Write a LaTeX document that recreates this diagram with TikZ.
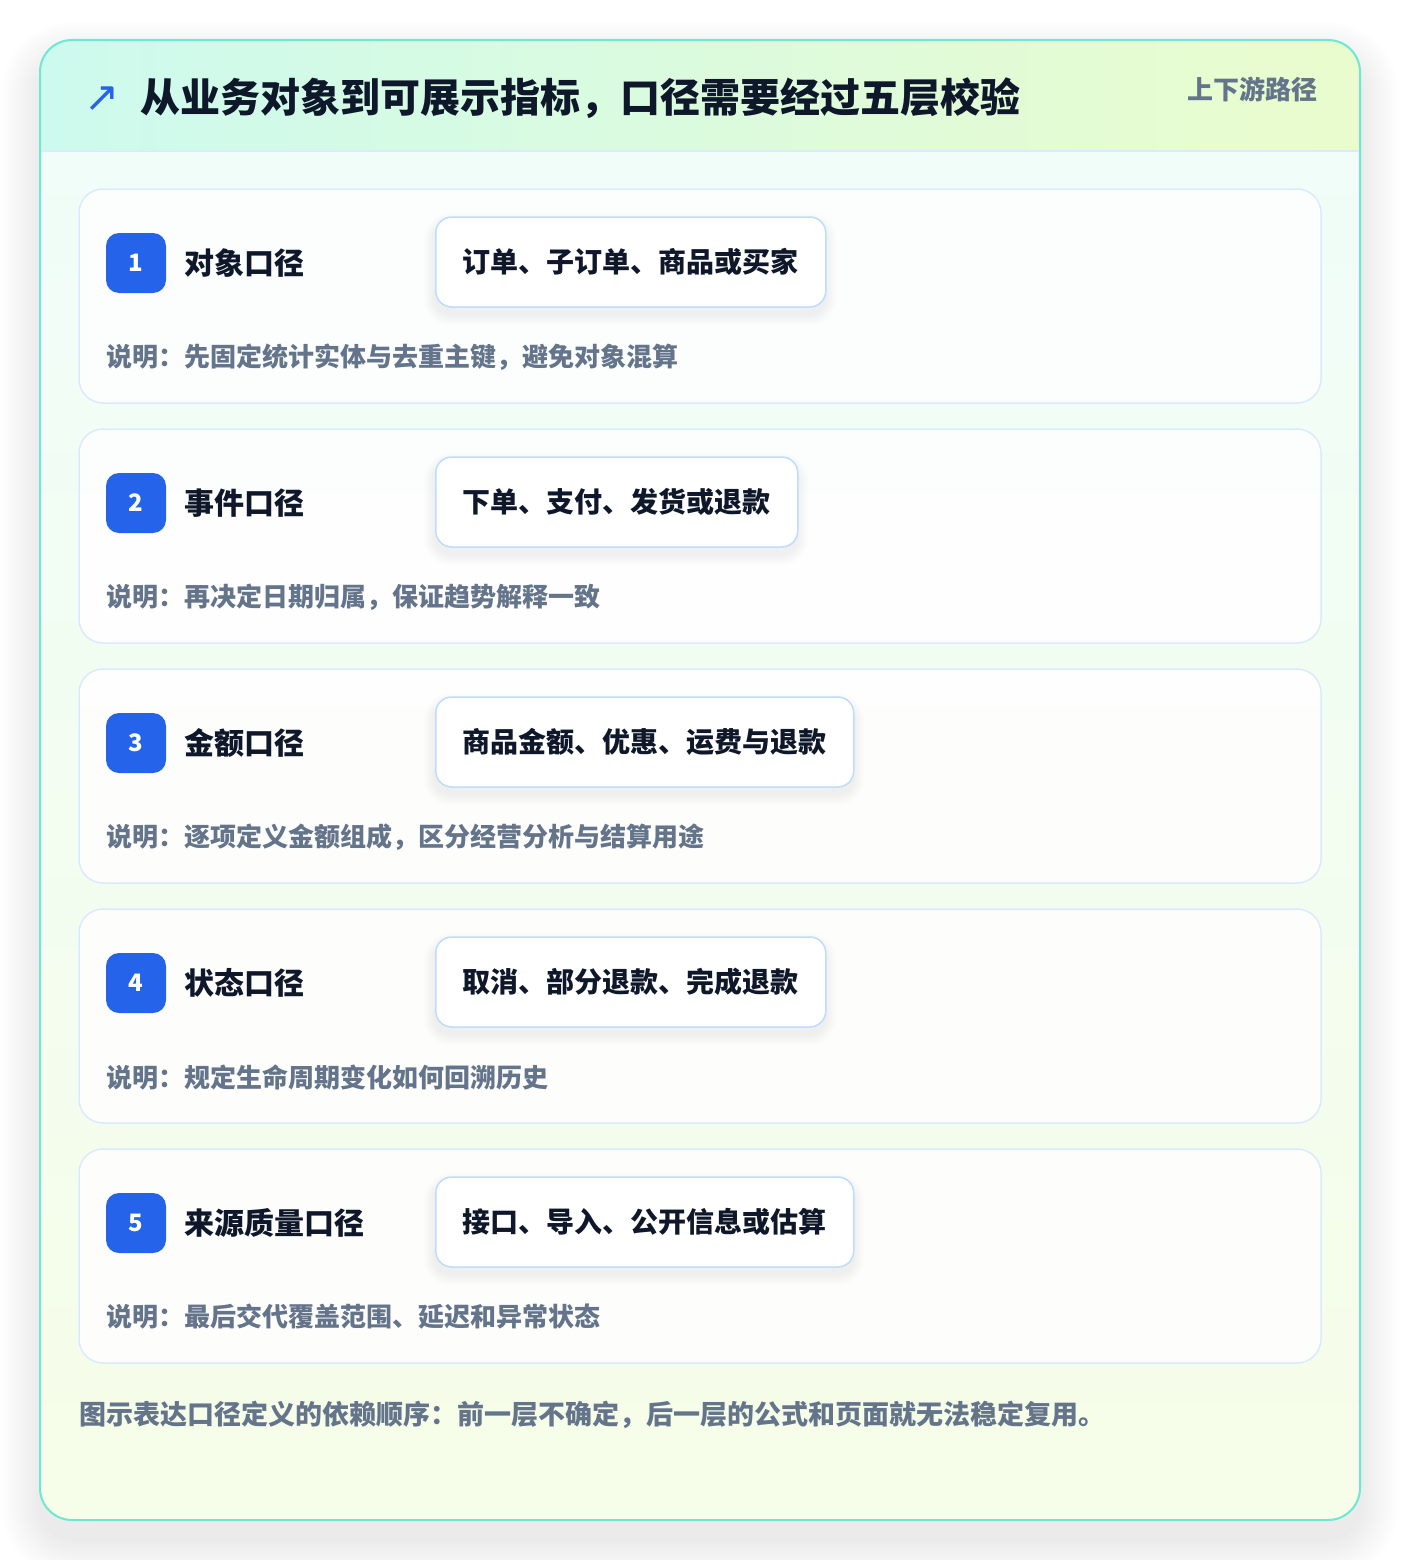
\documentclass[tikz,border=0pt]{standalone}
\usepackage{fontspec}
\setmainfont{Noto Sans CJK SC}[BoldFont={Noto Sans CJK SC Black}]
\newfontfamily\blackfont{Noto Sans CJK SC Black}
\newfontfamily\symfont{DejaVu Sans}
\definecolor{frameline}{HTML}{6EE7D3}
\definecolor{hdrL}{HTML}{CDFAEE}
\definecolor{hdrR}{HTML}{EAFCCD}
\definecolor{bodyT}{HTML}{F0FDF8}
\definecolor{bodyB}{HTML}{F6FDE8}
\definecolor{divline}{HTML}{DBEAFE}
\definecolor{cardline}{HTML}{DBEAFE}
\definecolor{pillline}{HTML}{BFDBFE}
\definecolor{badgeblue}{HTML}{2563EB}
\definecolor{ink}{HTML}{0F172A}
\definecolor{muted}{HTML}{64748B}
\tikzset{
  frame/.style={draw=frameline, line width=2pt, fill=white, rounded corners=32pt,
    minimum width=1318pt, minimum height=1478pt, inner sep=0pt},
  card/.style={draw=cardline, line width=1.5pt, fill=white, fill opacity=0.85, rounded corners=24pt,
    minimum width=1242pt, minimum height=214pt, inner sep=0pt},
  badge/.style={fill=badgeblue, rounded corners=13pt, minimum size=60pt, inner sep=0pt,
    text=white, font=\blackfont\fontsize{24}{28}\selectfont},
  lab/.style={anchor=west, inner sep=0pt, text=ink, font=\bfseries\fontsize{30}{36}\selectfont},
  pill/.style={anchor=west, draw=pillline, line width=1.5pt, fill=white, rounded corners=16pt,
    minimum height=90pt, inner xsep=27pt, inner ysep=0pt, text=ink,
    font=\bfseries\fontsize{28}{34}\selectfont},
  desc/.style={anchor=west, inner sep=0pt, text=muted, font=\bfseries\fontsize{26}{32}\selectfont},
  softshadow/.style={fill=black, opacity=#1},
}
\begin{document}
\begin{tikzpicture}[x=1pt,y=-1pt]
\useasboundingbox (0,0) rectangle (1400,1560);
\fill[white] (0,0) rectangle (1400,1560);
% soft shadow of the frame
\foreach \k in {1,...,20}{
  \pgfmathsetmacro{\e}{2*\k}
  \pgfmathsetmacro{\r}{32+2*\k}
  \fill[softshadow=0.0035, rounded corners=\r pt] (41-\e,41+20-\e) rectangle (1359+\e,1519+20+\e);
}
\node[frame] (frm) at (700,780) {};
\begin{scope}
  \clip[rounded corners=32pt] (frm.north west) rectangle (frm.south east);
  \shade[left color=hdrL, right color=hdrR] (41,41) rectangle (1359,151);
  \shade[top color=bodyT, bottom color=bodyB] (41,151) rectangle (1359,1519);
  \draw[divline, line width=1.5pt] (41,151) -- (1359,151);
\end{scope}
\draw[frameline, line width=2pt, rounded corners=32pt] (frm.north west) rectangle (frm.south east);

\node[inner sep=0pt, text=badgeblue, font=\symfont\fontsize{42}{46}\selectfont] (arrow) at (102,99) {↗};
\node[anchor=west, inner sep=0pt, text=ink, font=\blackfont\fontsize{40}{48}\selectfont] (title) at (140,98) {从业务对象到可展示指标，口径需要经过五层校验};
\node[anchor=east, inner sep=0pt, text=muted, font=\bfseries\fontsize{26}{32}\selectfont] (tag) at (1318,89) {上下游路径};

\foreach \i/\w/\lb/\pl/\ds in {
  1/390/对象口径/订单、子订单、商品或买家/说明：先固定统计实体与去重主键，避免对象混算,
  2/362/事件口径/下单、支付、发货或退款/说明：再决定日期归属，保证趋势解释一致,
  3/418/金额口径/商品金额、优惠、运费与退款/说明：逐项定义金额组成，区分经营分析与结算用途,
  4/390/状态口径/取消、部分退款、完成退款/说明：规定生命周期变化如何回溯历史,
  5/418/来源质量口径/接口、导入、公开信息或估算/说明：最后交代覆盖范围、延迟和异常状态}{
  \pgfmathsetmacro{\top}{189+240*(\i-1)}
  \node[card] (card\i) at (700,\top+107) {};
  \foreach \k in {1,...,7}{
    \pgfmathsetmacro{\e}{1.6*\k}
    \pgfmathsetmacro{\r}{16+1.6*\k}
    \fill[softshadow=0.009, rounded corners=\r pt] (435-\e,\top+28+7-\e) rectangle (435+\w+\e,\top+118+7+\e);
  }
  \node[badge] (badge\i) at (136,\top+74) {\i};
  \node[lab] (label\i) at (184,\top+74) {\lb};
  \node[pill] (pill\i) at (435,\top+73) {\pl};
  \node[desc] (desc\i) at (106,\top+168) {\ds};
}
\node[anchor=west, inner sep=0pt, text=muted, font=\bfseries\fontsize{27}{33}\selectfont] (foot) at (79,1415) {图示表达口径定义的依赖顺序：前一层不确定，后一层的公式和页面就无法稳定复用。};
\end{tikzpicture}
\end{document}
